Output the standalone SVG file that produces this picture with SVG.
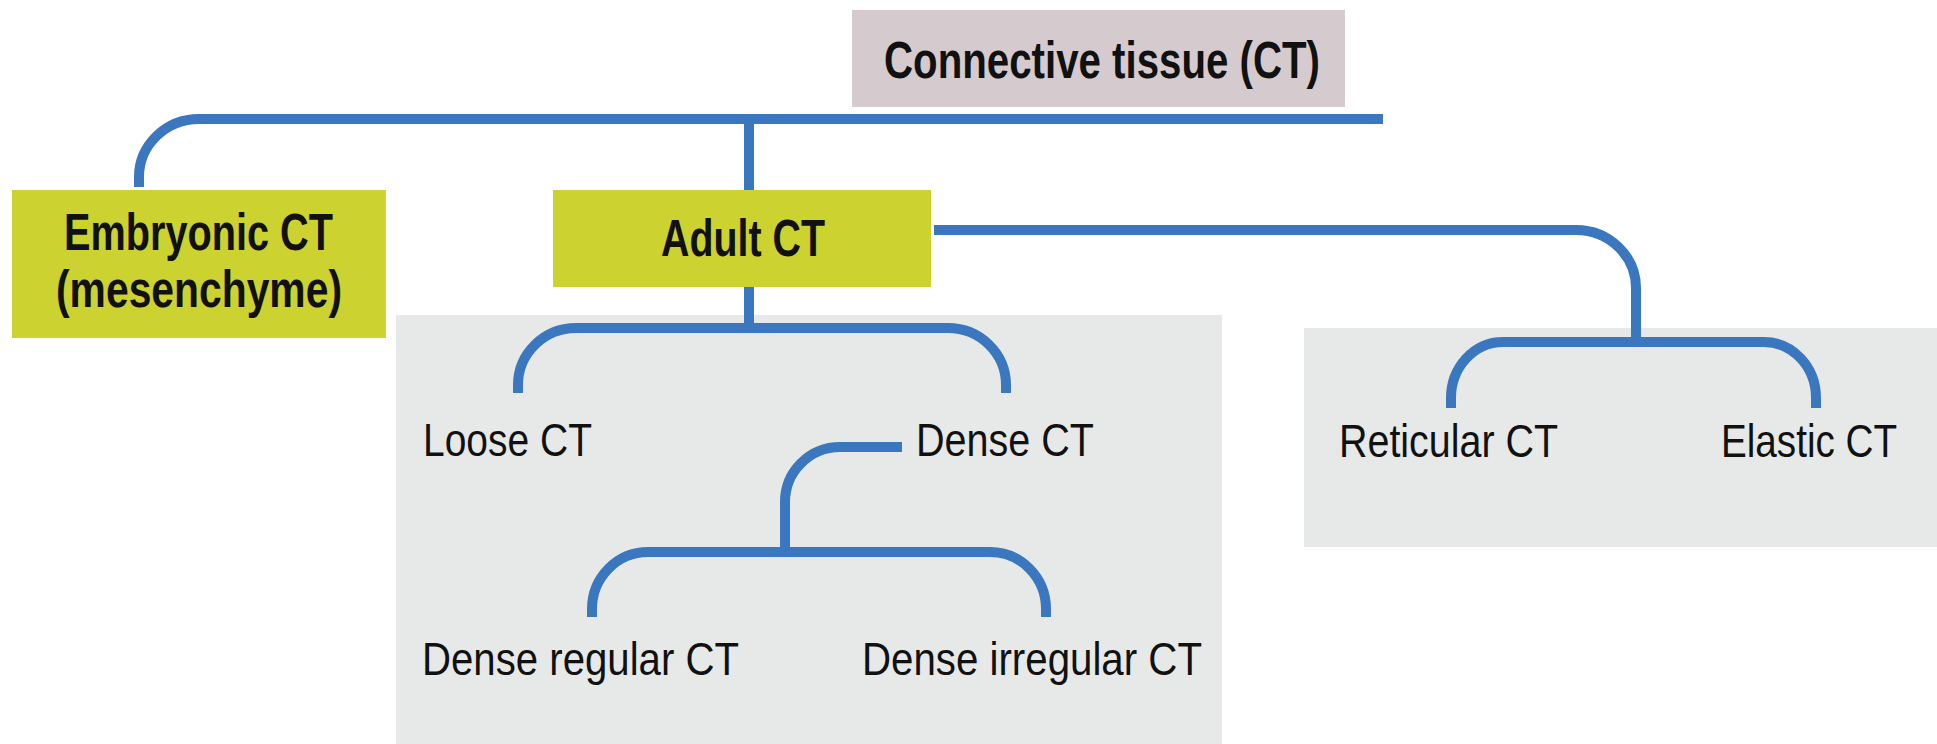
<svg xmlns="http://www.w3.org/2000/svg" width="1937" height="744" viewBox="0 0 1937 744">
<style>
.bg{fill:#ffffff}
.panel{fill:#e6e9e8}
.root{fill:#d5cbce}
.main{fill:#ccd22f}
.conn{fill:none;stroke:#3a77bf;stroke-width:10;stroke-linecap:butt}
.b{font-family:"Liberation Sans",Arial,sans-serif;font-weight:bold;font-size:52px;fill:#111}
.r{font-family:"Liberation Sans",Arial,sans-serif;font-size:47px;fill:#111}
</style>
<rect class="bg" x="0" y="0" width="1937" height="744"/>
<g id="panel-adult"><rect class="panel" x="396" y="315" width="826" height="429"/></g>
<g id="panel-special"><rect class="panel" x="1304" y="328" width="633" height="219"/></g>
<g id="connectors">
<path class="conn" d="M139,187 V177 A60,58 0 0 1 199,119 H1383"/>
<path class="conn" d="M749,119 V328"/>
<path class="conn" d="M518,393 V385 A58,57 0 0 1 576,328 H948 A58,57 0 0 1 1006,385 V393"/>
<path class="conn" d="M934,230 H1576 A60,58 0 0 1 1636,288 V342"/>
<path class="conn" d="M1451,408 V398 A52,56 0 0 1 1503,342 H1764 A52,56 0 0 1 1816,398 V408"/>
<path class="conn" d="M902,447 H840 A55,55 0 0 0 785,502 V553"/>
<path class="conn" d="M592,617 V609 A56,57 0 0 1 648,552 H990 A56,57 0 0 1 1046,609 V617"/>
</g>
<g id="node-ct"><rect class="root" x="852" y="10" width="493" height="97"/><text class="b" x="884" y="78" textLength="436" lengthAdjust="spacingAndGlyphs">Connective tissue (CT)</text></g>
<g id="node-embryonic"><rect class="main" x="12" y="190" width="374" height="148"/><text class="b" x="64" y="250" textLength="269" lengthAdjust="spacingAndGlyphs">Embryonic CT</text><text class="b" x="56" y="307" textLength="286" lengthAdjust="spacingAndGlyphs">(mesenchyme)</text></g>
<g id="node-adult"><rect class="main" x="553" y="190" width="378" height="97"/><text class="b" x="661" y="256" textLength="164" lengthAdjust="spacingAndGlyphs">Adult CT</text></g>
<g id="node-loose"><text class="r" x="423" y="456" textLength="169" lengthAdjust="spacingAndGlyphs">Loose CT</text></g>
<g id="node-dense"><text class="r" x="916" y="456" textLength="178" lengthAdjust="spacingAndGlyphs">Dense CT</text></g>
<g id="node-reticular"><text class="r" x="1339" y="457" textLength="219" lengthAdjust="spacingAndGlyphs">Reticular CT</text></g>
<g id="node-elastic"><text class="r" x="1721" y="457" textLength="176" lengthAdjust="spacingAndGlyphs">Elastic CT</text></g>
<g id="node-dense-regular"><text class="r" x="422" y="675" textLength="317" lengthAdjust="spacingAndGlyphs">Dense regular CT</text></g>
<g id="node-dense-irregular"><text class="r" x="862" y="675" textLength="340" lengthAdjust="spacingAndGlyphs">Dense irregular CT</text></g>
</svg>
